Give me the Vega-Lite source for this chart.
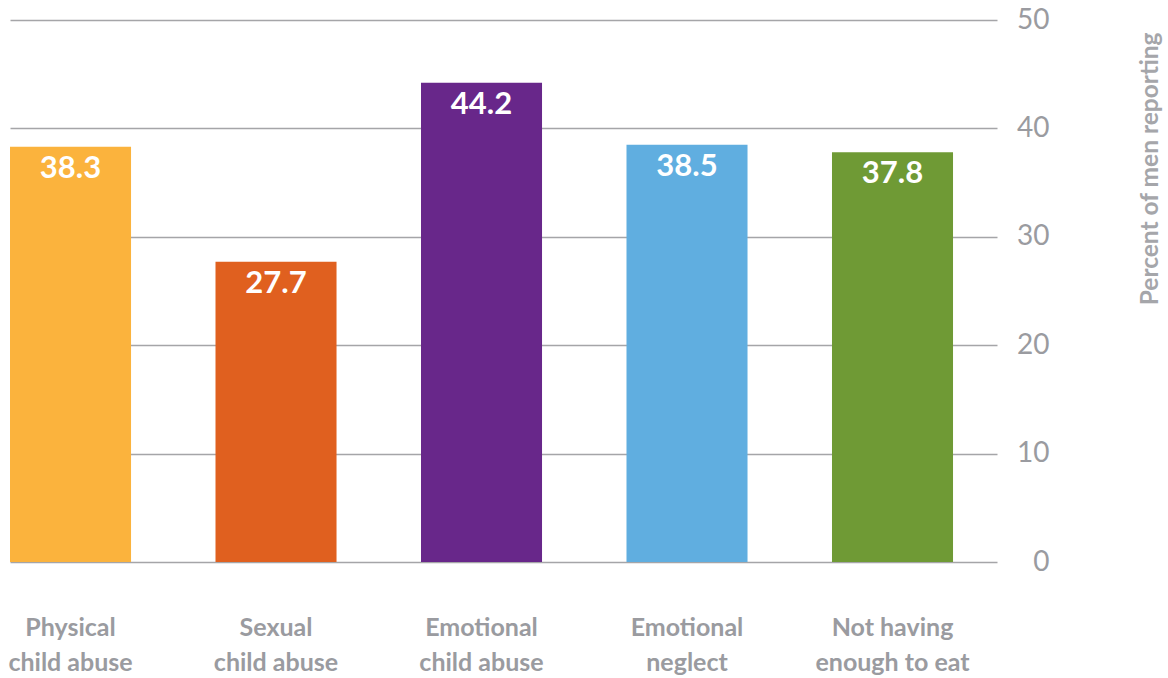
{
  "$schema": "https://vega.github.io/schema/vega-lite/v6.json",
  "width": 987,
  "height": 542,
  "autosize": {"type": "none"},
  "padding": {"left": 10, "top": 20, "right": 171, "bottom": 116},
  "background": "white",
  "config": {"view": {"stroke": null}},
  "data": {
    "values": [
      {"category": "Physical child abuse", "percent": 38.3},
      {"category": "Sexual child abuse", "percent": 27.7},
      {"category": "Emotional child abuse", "percent": 44.2},
      {"category": "Emotional neglect", "percent": 38.5},
      {"category": "Not having enough to eat", "percent": 37.8}
    ]
  },
  "encoding": {
    "x": {
      "field": "category",
      "type": "nominal",
      "sort": null,
      "scale": {"paddingInner": 0.411, "paddingOuter": 0.107, "align": 0},
      "axis": {
        "title": null,
        "domain": false,
        "ticks": false,
        "labelAngle": 0,
        "labelFont": "Lato",
        "labelFontWeight": "bold",
        "labelFontSize": 25,
        "labelColor": "#9a9ba0",
        "labelPadding": 53,
        "labelBaseline": "top",
        "labelLineHeight": 35,
        "labelExpr": "datum.value == 'Physical child abuse' ? ['Physical', 'child abuse'] : datum.value == 'Sexual child abuse' ? ['Sexual', 'child abuse'] : datum.value == 'Emotional child abuse' ? ['Emotional', 'child abuse'] : datum.value == 'Emotional neglect' ? ['Emotional', 'neglect'] : ['Not having', 'enough to eat']"
      }
    },
    "y": {
      "field": "percent",
      "type": "quantitative",
      "scale": {"domain": [0, 50], "nice": false},
      "axis": {
        "orient": "right",
        "values": [0, 10, 20, 30, 40, 50],
        "grid": true,
        "gridColor": "#a5a5a8",
        "gridWidth": 1.5,
        "domain": false,
        "ticks": false,
        "tickSize": 0,
        "labelFont": "Lato",
        "labelFontSize": 28,
        "labelColor": "#9a9ba0",
        "labelAlign": "right",
        "labelPadding": 52,
        "title": "Percent of men reporting",
        "titleFont": "Lato",
        "titleFontWeight": "bold",
        "titleFontSize": 24.5,
        "titleColor": "#a5a6aa",
        "titleAngle": 270,
        "titleAlign": "right",
        "titleBaseline": "alphabetic",
        "titleX": 160,
        "titleY": 12
      }
    }
  },
  "layer": [
    {
      "mark": {"type": "bar"},
      "encoding": {
        "color": {
          "field": "category",
          "type": "nominal",
          "legend": null,
          "scale": {
            "domain": ["Physical child abuse", "Sexual child abuse", "Emotional child abuse", "Emotional neglect", "Not having enough to eat"],
            "range": ["#fbb33d", "#e0601f", "#68278a", "#60aee0", "#6f9a35"]
          }
        }
      }
    },
    {
      "mark": {"type": "text", "color": "white", "font": "Lato", "fontWeight": "bold", "fontSize": 31, "baseline": "alphabetic", "dy": 31},
      "encoding": {
        "text": {"field": "percent", "type": "quantitative", "format": ".1f"}
      }
    }
  ]
}
